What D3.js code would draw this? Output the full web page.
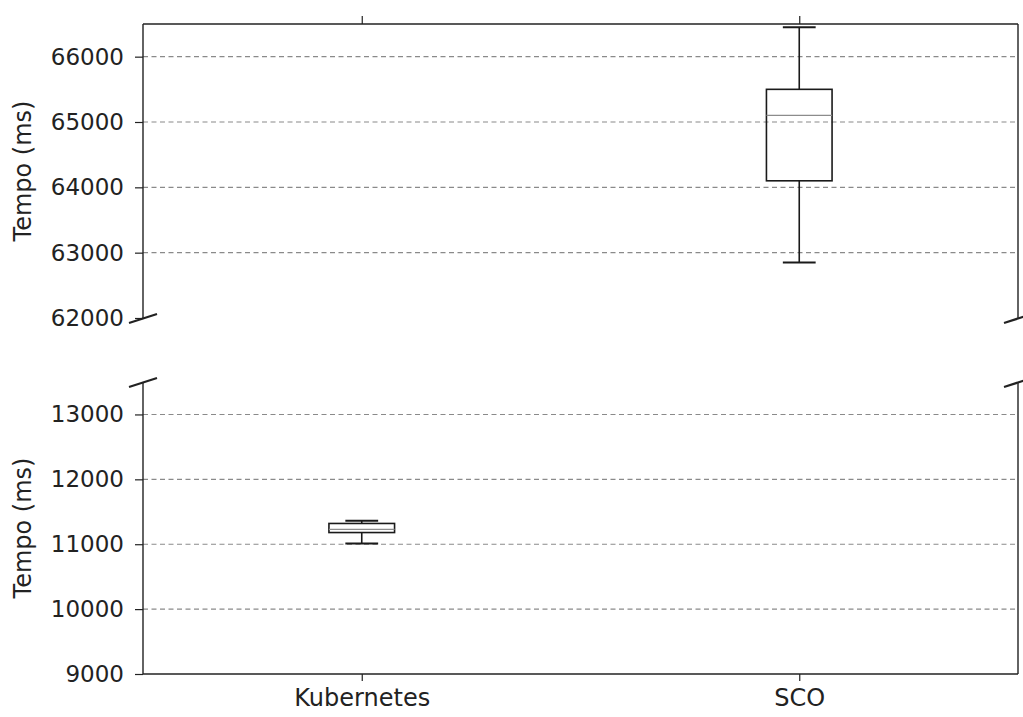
<!DOCTYPE html>
<html>
<head>
<meta charset="utf-8">
<script src="https://cdn.jsdelivr.net/npm/d3@7"></script>
<style>
  body { margin: 0; background: #fff; }
  text { font-family: "DejaVu Sans", sans-serif; fill: #222; }
</style>
</head>
<body>
<svg id="chart" width="1023" height="717"></svg>
<script>
// box statistics
var categories = ['Kubernetes', 'SCO'];
var whiskerLow = [11010, 62850];
var quartile1 = [11180, 64100];
var medians = [11230, 65100];
var quartile3 = [11320, 65500];
var whiskerHigh = [11360, 66450];

var topTicks = [62000, 63000, 64000, 65000, 66000];
var bottomTicks = [9000, 10000, 11000, 12000, 13000];

var svg = d3.select('#chart');
var left = 143, right = 1018;
var tickFont = 23, xFont = 24, labelFont = 24;

var x = d3.scaleLinear().domain([0.5, 2.5]).range([left, right]);

var panels = [
    {domain: [62000, 66500], range: [318, 24], ticks: topTicks, isTop: true},
    {domain: [9000, 13500], range: [674, 382], ticks: bottomTicks, isTop: false}
];

var boxes = categories.map(function(c, i) {
    return {
        name: c, pos: i + 1,
        lo: whiskerLow[i], q1: quartile1[i], med: medians[i],
        q3: quartile3[i], hi: whiskerHigh[i]
    };
});

panels.forEach(function(p) {
    var y = d3.scaleLinear().domain(p.domain).range(p.range);
    var g = svg.append('g');

    // dashed grid
    g.selectAll('line.grid')
        .data(p.ticks.filter(function(t) { return t > p.domain[0]; }))
        .enter().append('line')
        .attr('x1', left).attr('x2', right)
        .attr('y1', function(d) { return y(d); })
        .attr('y2', function(d) { return y(d); })
        .attr('stroke', '#8a8a8a')
        .attr('stroke-width', 1.1)
        .attr('stroke-dasharray', '5,3.5');

    // y axis
    var yAxis = d3.axisLeft(y).tickValues(p.ticks).tickSize(8).tickPadding(11)
        .tickFormat(d3.format('d'));
    var ya = g.append('g').attr('transform', 'translate(' + left + ',0)').call(yAxis);
    ya.select('.domain').remove();
    ya.selectAll('line').attr('stroke', '#222').attr('stroke-width', 1.2);
    ya.selectAll('text').style('font-size', tickFont + 'px')
        .style('font-family', '"DejaVu Sans", sans-serif').attr('fill', '#222');

    // spines
    var yTop = p.range[1], yBot = p.range[0];
    var spines = [[left, yTop, left, yBot], [right, yTop, right, yBot]];
    if (p.isTop) spines.push([left, yTop, right, yTop]);
    else spines.push([left, yBot, right, yBot]);
    g.selectAll('line.spine').data(spines).enter().append('line')
        .attr('x1', function(d) { return d[0]; }).attr('y1', function(d) { return d[1]; })
        .attr('x2', function(d) { return d[2]; }).attr('y2', function(d) { return d[3]; })
        .attr('stroke', '#222').attr('stroke-width', 1.4);

    // x ticks (top of upper panel, bottom of lower one)
    if (p.isTop) {
        var xa = g.append('g').attr('transform', 'translate(0,' + yTop + ')')
            .call(d3.axisTop(x).tickValues([1, 2]).tickSize(8).tickFormat(''));
        xa.select('.domain').remove();
        xa.selectAll('line').attr('stroke', '#222').attr('stroke-width', 1.2);
    } else {
        var xb = g.append('g').attr('transform', 'translate(0,' + yBot + ')')
            .call(d3.axisBottom(x).tickValues([1, 2]).tickSize(7).tickPadding(8)
                .tickFormat(function(d) { return categories[d - 1]; }));
        xb.select('.domain').remove();
        xb.selectAll('line').attr('stroke', '#222').attr('stroke-width', 1.2);
        xb.selectAll('text').style('font-size', xFont + 'px')
            .style('font-family', '"DejaVu Sans", sans-serif').attr('fill', '#222');
    }

    // break marks
    var by = p.isTop ? yBot : yTop;
    [left, right].forEach(function(bx) {
        g.append('line')
            .attr('x1', bx - 14).attr('y1', by + 5)
            .attr('x2', bx + 14).attr('y2', by - 4)
            .attr('stroke', '#222').attr('stroke-width', 2.2);
    });

    // y label
    svg.append('text')
        .attr('transform', 'translate(31,' + ((yTop + yBot) / 2) + ') rotate(-90)')
        .attr('text-anchor', 'middle')
        .style('font-size', labelFont + 'px')
        .text('Tempo (ms)');

    // boxes that fall in this panel
    var clipId = 'clip' + (p.isTop ? 'T' : 'B');
    svg.append('clipPath').attr('id', clipId).append('rect')
        .attr('x', left).attr('y', yTop - 12).attr('width', right - left).attr('height', yBot - yTop + 12);
    var bg = svg.append('g').attr('clip-path', 'url(#' + clipId + ')');
    var inPanel = boxes.filter(function(b) { return b.med >= p.domain[0] && b.med <= p.domain[1]; });
    var hw = (x(1.075) - x(1));
    var bw = (x(1.15) - x(1));
    inPanel.forEach(function(b) {
        var cx = x(b.pos);
        function line(x1, y1, x2, y2, col, w) {
            bg.append('line').attr('x1', x1).attr('y1', y1).attr('x2', x2).attr('y2', y2)
                .attr('stroke', col || '#1a1a1a').attr('stroke-width', w || 1.6);
        }
        line(cx, y(b.q3), cx, y(b.hi));
        line(cx, y(b.q1), cx, y(b.lo));
        line(cx - hw / 2, y(b.hi), cx + hw / 2, y(b.hi), null, 2);
        line(cx - hw / 2, y(b.lo), cx + hw / 2, y(b.lo), null, 2);
        bg.append('rect')
            .attr('x', cx - bw / 2).attr('y', y(b.q3))
            .attr('width', bw).attr('height', y(b.q1) - y(b.q3))
            .attr('fill', 'none').attr('stroke', '#1a1a1a').attr('stroke-width', 1.6);
        line(cx - bw / 2, y(b.med), cx + bw / 2, y(b.med), '#8c8c8c', 1.3);
    });
});
</script>
</body>
</html>
